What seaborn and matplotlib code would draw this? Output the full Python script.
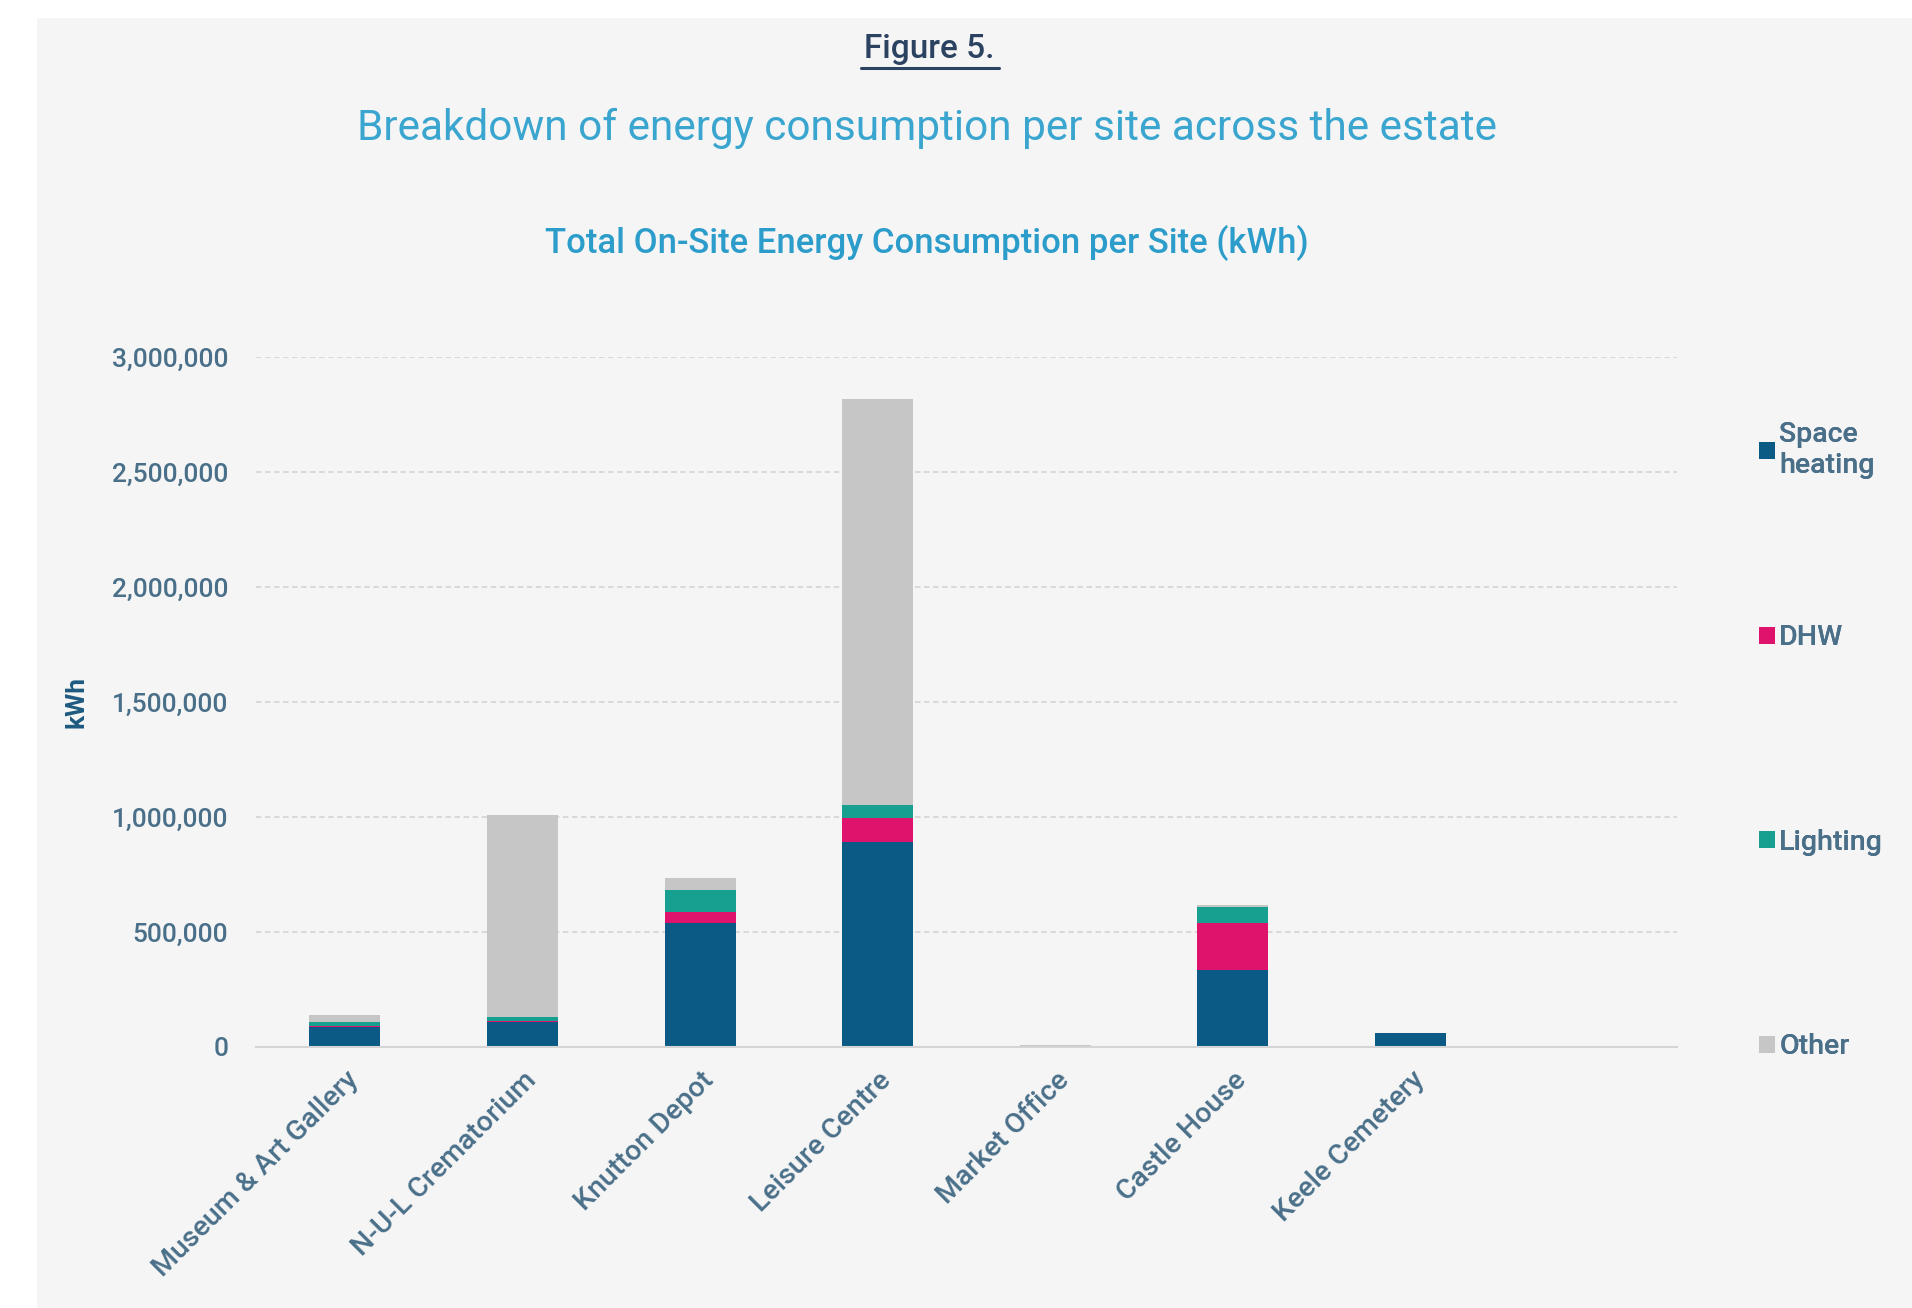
import matplotlib
matplotlib.use("Agg")
import matplotlib.pyplot as plt
import seaborn as sns
import numpy as np
from matplotlib.patches import Rectangle, Patch
from matplotlib.lines import Line2D
from matplotlib.ticker import FuncFormatter

# ---- data ----
sites = ["Museum & Art Gallery", "N-U-L Crematorium", "Knutton Depot", "Leisure Centre",
         "Market Office", "Castle House", "Keele Cemetery", " "]
space_heating = [85000, 110000, 540000, 890000, 0, 335000, 60000, 0]
dhw = [5000, 5000, 48000, 105000, 0, 205000, 0, 0]
lighting = [18000, 15000, 95000, 57000, 0, 68000, 0, 0]
other = [30000, 880000, 52000, 1765000, 7000, 10000, 0, 0]
series_names = ["Space\nheating", "DHW", "Lighting", "Other"]
y_ticks = [0, 500000, 1000000, 1500000, 2000000, 2500000, 3000000]

colors = ["#0A5A85", "#E0136C", "#17A090", "#C6C6C6"]

sns.set_theme(style="white")
plt.rcParams["font.family"] = ["Roboto", "DejaVu Sans"]

fig = plt.figure(figsize=(19.12, 13.08), dpi=100, facecolor="white")
# page background (light grey image area)
fig.patches.append(Rectangle((37 / 1912, 0), 1 - 37 / 1912, 1 - 18 / 1308,
                             transform=fig.transFigure, facecolor="#F5F5F5",
                             edgecolor="none", zorder=-10))

ax = fig.add_axes([256 / 1912, 1 - 1047 / 1308, (1677 - 256) / 1912, (1047 - 357) / 1308])
ax.set_facecolor("none")

series = [space_heating, dhw, lighting, other]
bottom = np.zeros(len(sites))
for vals, col in zip(series, colors):
    sns.barplot(x=sites, y=vals, bottom=bottom, color=col, width=0.4,
                saturation=1, ax=ax, errorbar=None, linewidth=0, zorder=3)
    bottom = bottom + np.array(vals, dtype=float)

ax.set_ylim(0, 3000000)
ax.set_xlim(-0.5, len(sites) - 0.5)
ax.set_yticks(y_ticks)
ax.yaxis.set_major_formatter(FuncFormatter(lambda v, p: f"{int(v):,}"))
ax.grid(axis="y", color="#D6D6D6", linestyle=(0, (3, 2)), linewidth=1.3, zorder=0)
ax.grid(axis="x", visible=False)
for s in ["top", "right", "left"]:
    ax.spines[s].set_visible(False)
ax.spines["bottom"].set_color("#D5D5D5")
ax.spines["bottom"].set_linewidth(1.5)
ax.spines["bottom"].set_zorder(4)

tick_col = "#4A6F89"
ax.tick_params(axis="y", length=0, pad=20, labelsize=19, labelcolor=tick_col)
ax.tick_params(axis="x", length=0, pad=14, labelsize=20.5, labelcolor=tick_col)
for lab in ax.get_yticklabels():
    lab.set_fontweight("medium")
for lab in ax.get_xticklabels():
    lab.set_rotation(45)
    lab.set_ha("right")
    lab.set_rotation_mode("anchor")
    lab.set_fontweight("medium")

ax.set_xlabel("")
ax.set_ylabel("kWh", fontsize=19, color="#1E5A80", fontweight="bold")
ax.yaxis.set_label_coords(-0.118, 0.5)

# titles
fig.text(929 / 1912, 1 - 49 / 1308, "Figure 5.", ha="center", va="center",
         fontsize=24, color="#2B4260", fontweight="medium")
fig.add_artist(Line2D([861 / 1912, 999 / 1912], [1 - 68 / 1308, 1 - 68 / 1308],
                      transform=fig.transFigure, color="#2B4260", linewidth=2.2))
fig.text(927 / 1912, 1 - 128 / 1308,
         "Breakdown of energy consumption per site across the estate",
         ha="center", va="center", fontsize=30.5, color="#3AA6D0")
fig.text(927 / 1912, 1 - 243 / 1308,
         "Total On-Site Energy Consumption per Site (kWh)",
         ha="center", va="center", fontsize=25, color="#2C9DCB", fontweight="medium")

# legend: one entry per block, spread vertically
leg_y = [450, 638, 842, 1047]
for name, col, yy in zip(series_names, colors, leg_y):
    h = Patch(facecolor=col, edgecolor="none")
    lg = fig.legend(handles=[h], labels=[name], loc="center left",
                    bbox_to_anchor=(1745 / 1912, 1 - yy / 1308), frameon=False,
                    prop={"size": 20.5, "weight": "medium"},
                    handlelength=0.55, handleheight=0.55,
                    handletextpad=0.15, borderpad=0, labelcolor="#4A6F89",
                    labelspacing=0.1)
    fig.add_artist(lg)

fig.savefig("out.png", dpi=100, facecolor="white")
